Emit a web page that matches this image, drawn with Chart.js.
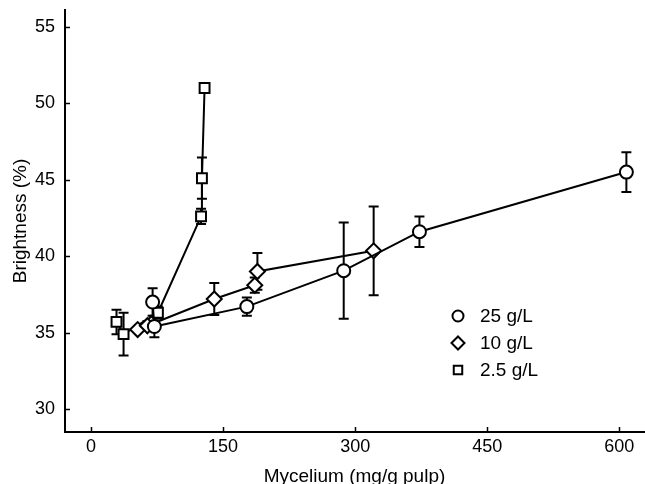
<!DOCTYPE html>
<html>
<head>
<meta charset="utf-8">
<script src="https://cdn.jsdelivr.net/npm/chart.js@4.4.0/dist/chart.umd.min.js"></script>
<style>
  html, body { margin: 0; padding: 0; background: #fff; overflow: hidden; }
  #wrap { width: 645px; height: 500px; position: relative; }
</style>
</head>
<body>
<div id="wrap"><canvas id="chartContainer"></canvas></div>
<script>
// values
const circleX = [70, 72, 177, 287, 373, 608];
const circleY = [37.0, 35.4, 36.7, 39.05, 41.6, 45.5];
const circleErr = [0.9, 0.7, 0.6, 3.15, 1.0, 1.3];

const diamondX = [53, 64, 140, 186, 189, 321];
const diamondY = [35.2, 35.45, 37.2, 38.1, 39.0, 40.35];
const diamondErr = [0, 0.3, 1.05, 0.5, 1.2, 2.9];

const squareX = [29, 37, 76, 125, 126, 129];
const squareY = [35.7, 34.9, 36.3, 42.6, 45.1, 51.0];
const squareErr = [0.8, 1.4, 0.4, 0.5, 1.35, 0];

const seriesNames = ['25 g/L', '10 g/L', '2.5 g/L'];
const xTicks = [0, 150, 300, 450, 600];
const yTicks = [30, 35, 40, 45, 50, 55];

const FONT = "'Liberation Sans', Arial, sans-serif";

function toPoints(xs, ys) {
  return xs.map((x, i) => ({ x: x, y: ys[i] }))
}

const errors = [circleErr, diamondErr, squareErr];

const errorBars = {
  id: 'errorBars',
  beforeDatasetsDraw(chart) {
    const ctx = chart.ctx;
    const xs = chart.scales.x;
    const ys = chart.scales.y;
    ctx.save();
    ctx.strokeStyle = '#000';
    ctx.lineWidth = 2;
    chart.data.datasets.forEach((ds, di) => {
      ds.data.forEach((p, i) => {
        const e = errors[di][i];
        if (!e) return;
        const px = xs.getPixelForValue(p.x);
        const top = ys.getPixelForValue(p.y + e);
        const bot = ys.getPixelForValue(p.y - e);
        ctx.beginPath();
        ctx.moveTo(px, top);
        ctx.lineTo(px, bot);
        ctx.moveTo(px - 5, top);
        ctx.lineTo(px + 5, top);
        ctx.moveTo(px - 5, bot);
        ctx.lineTo(px + 5, bot);
        ctx.stroke();
      })
    })
    ctx.restore();
  }
}

const innerTicks = {
  id: 'innerTicks',
  afterDraw(chart) {
    const ctx = chart.ctx;
    const area = chart.chartArea;
    const xs = chart.scales.x;
    const ys = chart.scales.y;
    ctx.save();
    ctx.strokeStyle = '#000';
    ctx.lineWidth = 1.5;
    ctx.beginPath();
    xTicks.forEach((v) => {
      const px = Math.round(xs.getPixelForValue(v)) + 0.5;
      ctx.moveTo(px, area.bottom);
      ctx.lineTo(px, area.bottom - 5);
    })
    yTicks.forEach((v) => {
      const py = Math.round(ys.getPixelForValue(v)) + 0.5;
      ctx.moveTo(area.left, py);
      ctx.lineTo(area.left + 5, py);
    })
    ctx.stroke();

    // legend inside the plot
    const styles = ['circle', 'rectRot', 'rect'];
    const radii = [5.5, 6.5, 6];
    const lx = area.left + 393;
    const ly = area.top + 306;
    ctx.font = '19px ' + FONT;
    ctx.textBaseline = 'middle';
    seriesNames.forEach((name, i) => {
      const y = ly + i * 27;
      ctx.lineWidth = 2;
      ctx.fillStyle = '#fff';
      ctx.strokeStyle = '#000';
      Chart.helpers.drawPoint(ctx, { pointStyle: styles[i], radius: radii[i], borderWidth: 2 }, lx, y);
      ctx.fillStyle = '#000';
      ctx.fillText(name, lx + 22, y + 1);
    })
    ctx.restore();
  }
}

const common = {
  showLine: true,
  borderColor: '#000',
  borderWidth: 2,
  pointBackgroundColor: '#fff',
  pointBorderColor: '#000',
  pointBorderWidth: 2,
  tension: 0,
}

new Chart(document.getElementById('chartContainer'), {
  type: 'scatter',
  data: {
    datasets: [
      { ...common, label: seriesNames[0], data: toPoints(circleX, circleY), pointStyle: 'circle', pointRadius: 6.5 },
      { ...common, label: seriesNames[1], data: toPoints(diamondX, diamondY), pointStyle: 'rectRot', pointRadius: 7.5 },
      { ...common, label: seriesNames[2], data: toPoints(squareX, squareY), pointStyle: 'rect', pointRadius: 7 },
    ]
  },
  plugins: [errorBars, innerTicks],
  options: {
    responsive: true,
    maintainAspectRatio: false,
    animation: false,
    layout: { autoPadding: false, padding: { top: 10, right: 1, left: 0, bottom: 0 } },
    plugins: { legend: { display: false }, tooltip: { enabled: false } },
    scales: {
      x: {
        type: 'linear',
        min: -29.5,
        max: 628,
        afterBuildTicks: (s) => { s.ticks = xTicks.map(v => ({ value: v })) },
        afterFit: (s) => { s.height = 68; s.paddingLeft = 0; s.paddingRight = 0 },
        grid: { display: false, drawTicks: false },
        border: { display: true, color: '#000', width: 2 },
        ticks: { color: '#000', font: { family: FONT, size: 18 }, padding: 4, maxRotation: 0 },
        title: { display: true, text: 'Mycelium (mg/g pulp)', color: '#000', font: { family: FONT, size: 19 }, padding: { top: 4, bottom: 12 } }
      },
      y: {
        type: 'linear',
        min: 28.5,
        max: 56.1,
        afterBuildTicks: (s) => { s.ticks = yTicks.map(v => ({ value: v })) },
        afterFit: (s) => { s.width = 65; s.paddingTop = 0; s.paddingBottom = 0 },
        grid: { display: false, drawTicks: false },
        border: { display: true, color: '#000', width: 2 },
        ticks: { color: '#000', font: { family: FONT, size: 18 }, padding: 10 },
        title: { display: true, text: 'Brightness (%)', color: '#000', font: { family: FONT, size: 19 }, padding: { top: 9, bottom: 0 } }
      }
    }
  }
});
</script>
</body>
</html>
